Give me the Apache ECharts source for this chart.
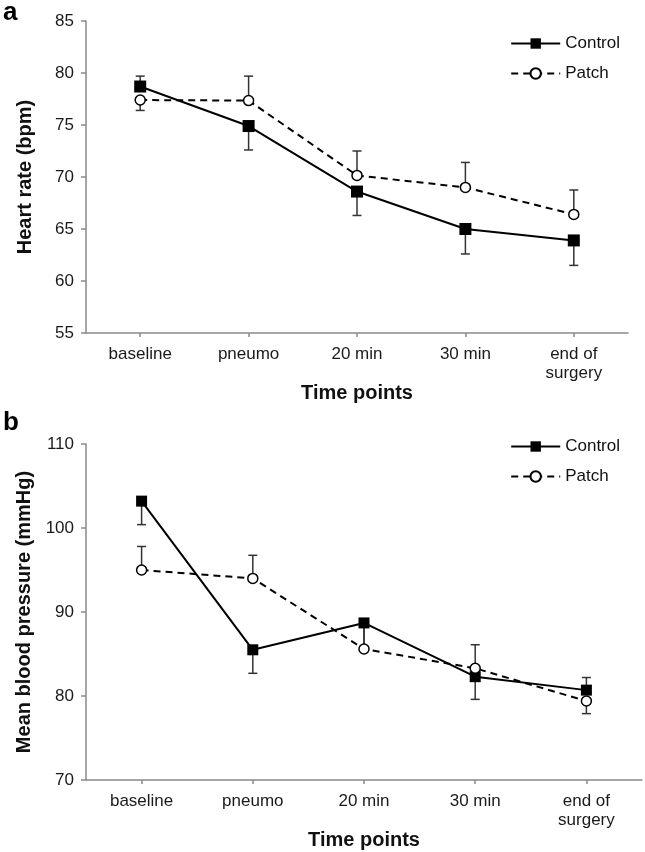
<!DOCTYPE html>
<html>
<head>
<meta charset="utf-8">
<script src="https://cdn.jsdelivr.net/npm/echarts@6/dist/echarts.min.js"></script>
<style>
html,body{margin:0;padding:0;background:#fff;}
#chart{width:645px;height:852px;}
</style>
</head>
<body>
<div id="chart"></div>
<script>
// ---- data ----
var categories = ['baseline', 'pneumo', '20 min', '30 min', 'end of\nsurgery'];
var seriesNames = ['Control', 'Patch'];

// Panel a: heart rate (bpm)
var hrControl = [78.7, 74.9, 68.6, 65.0, 63.9];
var hrPatch = [77.4, 77.35, 70.15, 69.0, 66.4];
// error bar end values (bar drawn from mean to this value)
var hrControlErrEnd = [79.7, 72.6, 66.3, 62.6, 61.5];
var hrPatchErrEnd = [76.4, 79.7, 72.5, 71.4, 68.75];
var hrTicks = {min: 55, max: 85, interval: 5};

// Panel b: mean blood pressure (mmHg)
var mbpControl = [103.2, 85.5, 88.7, 82.3, 80.7];
var mbpPatch = [95.0, 94.0, 85.6, 83.3, 79.4];
var mbpControlErrEnd = [100.4, 82.7, 85.9, 79.6, 82.2];
var mbpPatchErrEnd = [97.8, 96.75, 88.3, 86.1, 77.9];
var mbpTicks = {min: 70, max: 110, interval: 10};

// ---- chart ----
var FONT = "'Liberation Sans', Arial, Helvetica, sans-serif";
var chart = echarts.init(document.getElementById('chart'), null, {renderer: 'canvas'});

function errData(means, ends) {
  return means.map(function (m, i) { return [i, m, ends[i]]; });
}
function errSeries(gridIdx, data) {
  return {
    type: 'custom',
    xAxisIndex: gridIdx, yAxisIndex: gridIdx,
    z: 1,
    silent: true,
    data: data,
    renderItem: function (params, api) {
      var p0 = api.coord([api.value(0), api.value(1)]);
      var p1 = api.coord([api.value(0), api.value(2)]);
      var hw = 4.5;
      return {
        type: 'group',
        children: [
          {type: 'line', shape: {x1: p0[0], y1: p0[1], x2: p1[0], y2: p1[1]},
           style: {stroke: '#333', lineWidth: 1.5}},
          {type: 'line', shape: {x1: p1[0] - hw, y1: p1[1], x2: p1[0] + hw, y2: p1[1]},
           style: {stroke: '#333', lineWidth: 1.5}}
        ]
      };
    }
  };
}
function lineSeries(gridIdx, name, data, dashed, sqSize) {
  return {
    type: 'line', name: name,
    xAxisIndex: gridIdx, yAxisIndex: gridIdx,
    z: 3,
    data: data,
    symbol: dashed ? 'circle' : 'rect',
    symbolSize: dashed ? 10 : sqSize,
    showAllSymbol: true,
    lineStyle: {color: '#000', width: 2, type: dashed ? [7, 5] : 'solid'},
    itemStyle: dashed ? {color: '#fff', borderColor: '#000', borderWidth: 1.5}
                      : {color: '#000', borderColor: '#000', borderWidth: 0},
    emphasis: {disabled: true},
    animation: false
  };
}
function xAxisDef(gridIdx) {
  return {
    type: 'category', gridIndex: gridIdx, data: categories,
    boundaryGap: true,
    name: 'Time points', nameLocation: 'middle', nameGap: 50,
    nameTextStyle: {fontFamily: FONT, fontSize: 20, fontWeight: 'bold', color: '#111'},
    axisLine: {show: true, lineStyle: {color: '#8a8a8a', width: 1.5}},
    axisTick: {show: true, alignWithLabel: true, length: 4, lineStyle: {color: '#8a8a8a', width: 1.5}},
    axisLabel: {fontFamily: FONT, fontSize: 17, color: '#1a1a1a', margin: 12, lineHeight: 19, interval: 0},
    splitLine: {show: false}
  };
}
function yAxisDef(gridIdx, name, t) {
  return {
    type: 'value', gridIndex: gridIdx, min: t.min, max: t.max, interval: t.interval,
    name: name, nameLocation: 'middle', nameGap: 51, nameRotate: 90,
    nameTextStyle: {fontFamily: FONT, fontSize: 20, fontWeight: 'bold', color: '#111'},
    axisLine: {show: true, lineStyle: {color: '#8a8a8a', width: 1.5}},
    axisTick: {show: true, length: 5, lineStyle: {color: '#8a8a8a', width: 1.5}},
    axisLabel: {fontFamily: FONT, fontSize: 17, color: '#1a1a1a', margin: 12},
    splitLine: {show: false}
  };
}
function legendDef(top) {
  return {
    data: seriesNames, orient: 'vertical', right: 20, top: top,
    itemWidth: 49, itemHeight: 13, itemGap: 13,
    textStyle: {fontFamily: FONT, fontSize: 17, color: '#111'},
    selectedMode: false
  };
}

var option = {
  backgroundColor: '#fff',
  animation: false,
  grid: [
    {left: 86, right: 17, top: 21, height: 312, containLabel: false, outerBoundsMode: 'none'},
    {left: 86, right: 3, top: 444, height: 336, containLabel: false, outerBoundsMode: 'none'}
  ],
  legend: [legendDef(30), legendDef(433)],
  xAxis: [xAxisDef(0), xAxisDef(1)],
  yAxis: [yAxisDef(0, 'Heart rate (bpm)', hrTicks), yAxisDef(1, 'Mean blood pressure (mmHg)', mbpTicks)],
  graphic: [
    {type: 'text', left: 3, top: 0, style: {text: 'a', font: 'bold 26px ' + FONT, fill: '#000'}},
    {type: 'text', left: 3, top: 410, style: {text: 'b', font: 'bold 26px ' + FONT, fill: '#000'}}
  ],
  series: [
    errSeries(0, errData(hrControl, hrControlErrEnd)),
    errSeries(0, errData(hrPatch, hrPatchErrEnd)),
    lineSeries(0, 'Control', hrControl, false, 12),
    lineSeries(0, 'Patch', hrPatch, true),
    errSeries(1, errData(mbpControl, mbpControlErrEnd)),
    errSeries(1, errData(mbpPatch, mbpPatchErrEnd)),
    lineSeries(1, 'Control', mbpControl, false, 11),
    lineSeries(1, 'Patch', mbpPatch, true)
  ]
};
chart.setOption(option);
</script>
</body>
</html>
